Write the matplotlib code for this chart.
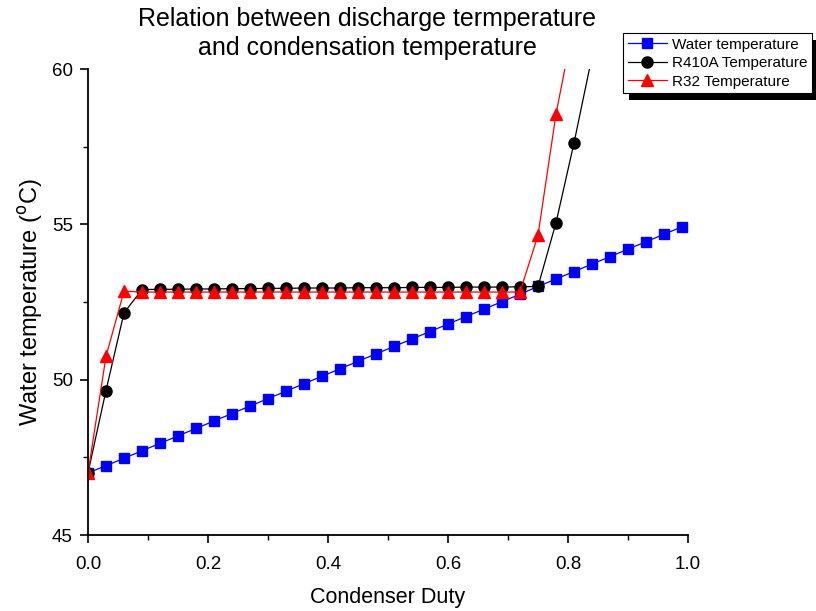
import numpy as np
import matplotlib
matplotlib.use('Agg')
from matplotlib import pyplot as plt
from matplotlib.patches import Rectangle
from matplotlib.ticker import MultipleLocator, FormatStrFormatter

plt.rcParams['font.family'] = ['Liberation Sans', 'DejaVu Sans']

# condenser duty (x) and temperatures
duty_water = [0.00, 0.03, 0.06, 0.09, 0.12, 0.15, 0.18, 0.21, 0.24, 0.27, 0.30, 0.33,
              0.36, 0.39, 0.42, 0.45, 0.48, 0.51, 0.54, 0.57, 0.60, 0.63, 0.66, 0.69,
              0.72, 0.75, 0.78, 0.81, 0.84, 0.87, 0.90, 0.93, 0.96, 0.99]
t_water = [47.00, 47.23, 47.47, 47.71, 47.95, 48.19, 48.43, 48.67, 48.91, 49.15, 49.39, 49.63,
           49.87, 50.11, 50.35, 50.59, 50.83, 51.07, 51.31, 51.55, 51.79, 52.03, 52.27, 52.51,
           52.75, 53.00, 53.24, 53.48, 53.72, 53.96, 54.20, 54.44, 54.68, 54.92]

duty_r410a = [0.00, 0.03, 0.06, 0.09, 0.12, 0.15, 0.18, 0.21, 0.24, 0.27, 0.30, 0.33,
              0.36, 0.39, 0.42, 0.45, 0.48, 0.51, 0.54, 0.57, 0.60, 0.63, 0.66, 0.69,
              0.72, 0.75, 0.78, 0.81, 0.84]
t_r410a = [47.00, 49.65, 52.15, 52.90, 52.91, 52.91, 52.92, 52.92, 52.93, 52.93, 52.94, 52.94,
           52.95, 52.95, 52.95, 52.96, 52.96, 52.96, 52.97, 52.97, 52.97, 52.98, 52.98, 52.98,
           52.99, 53.00, 55.05, 57.62, 60.40]

duty_r32 = [0.00, 0.03, 0.06, 0.09, 0.12, 0.15, 0.18, 0.21, 0.24, 0.27, 0.30, 0.33,
            0.36, 0.39, 0.42, 0.45, 0.48, 0.51, 0.54, 0.57, 0.60, 0.63, 0.66, 0.69,
            0.72, 0.75, 0.78, 0.81]
t_r32 = [47.00, 50.75, 52.85, 52.82, 52.82, 52.82, 52.82, 52.82, 52.82, 52.82, 52.82, 52.82,
         52.82, 52.82, 52.82, 52.82, 52.82, 52.82, 52.82, 52.82, 52.82, 52.82, 52.82, 52.82,
         52.82, 54.65, 58.55, 61.50]

fig = plt.figure(figsize=(8.16, 6.11), dpi=100)
ax = fig.add_axes([88 / 816, 1 - 535 / 611, 600 / 816, 466 / 611])

ax.plot(duty_water, t_water, color='blue', lw=0.9, marker='s', ms=7,
        mec='blue', mfc='blue', label='Water temperature')
ax.plot(duty_r410a, t_r410a, color='black', lw=0.9, marker='o', ms=8,
        label='R410A Temperature')
ax.plot(duty_r32, t_r32, color='red', lw=0.9, marker='^', ms=8.5,
        label='R32 Temperature')

ax.set_xlim(0, 1.0)
ax.set_ylim(45, 60)
ax.xaxis.set_major_locator(MultipleLocator(0.2))
ax.xaxis.set_minor_locator(MultipleLocator(0.1))
ax.xaxis.set_major_formatter(FormatStrFormatter('%.1f'))
ax.yaxis.set_major_locator(MultipleLocator(5))
ax.yaxis.set_minor_locator(MultipleLocator(2.5))
ax.spines['top'].set_visible(False)
ax.spines['right'].set_visible(False)
for s in ('left', 'bottom'):
    ax.spines[s].set_linewidth(1.3)
ax.tick_params(which='major', direction='out', length=6, width=1.2, labelsize=13.5)
ax.tick_params(axis='x', which='major', pad=9)
ax.tick_params(axis='y', which='major', pad=5)
ax.tick_params(which='minor', direction='out', length=3.5, width=1.0)

ax.set_xlabel('Condenser Duty', fontsize=15.5, labelpad=10)
ax.set_ylabel('Water temperature ($^{\\mathrm{o}}$C)', fontsize=17, labelpad=5)

fig.text(367 / 816, 1 - 7 / 611,
         'Relation between discharge termperature\nand condensation temperature',
         ha='center', va='top', ma='center', fontsize=18, linespacing=1.25)

leg = fig.legend(loc='upper right', bbox_to_anchor=(812 / 816, 1 - 33 / 611),
                 fontsize=11, frameon=True, fancybox=False, edgecolor='black',
                 framealpha=1, handlelength=2.6, borderpad=0.3, labelspacing=0.3,
                 handletextpad=0.3, borderaxespad=0)
leg.get_frame().set_linewidth(0.8)
leg.set_zorder(5)

fig.canvas.draw()
bb = leg.get_window_extent().transformed(fig.transFigure.inverted())
shadow = Rectangle((bb.x0 + 6 / 816, bb.y0 - 7 / 611), bb.width, bb.height,
                   transform=fig.transFigure, facecolor='black', edgecolor='none', zorder=4)
fig.patches.append(shadow)

fig.savefig('out.png', dpi=100)
